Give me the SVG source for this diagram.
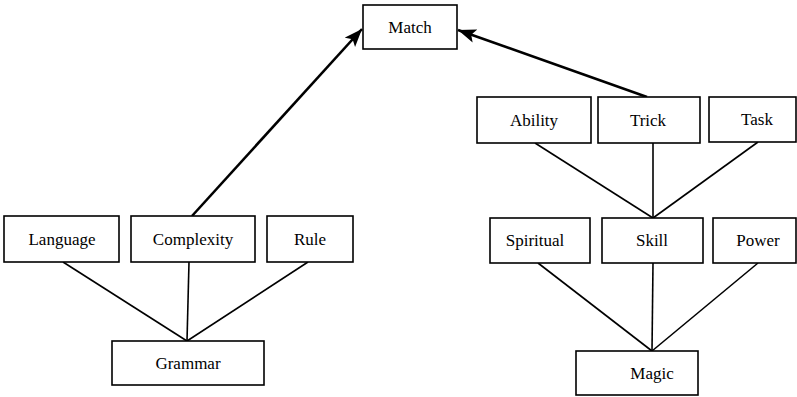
<svg xmlns="http://www.w3.org/2000/svg" width="797" height="397" viewBox="0 0 797 397">
  <style>
    .box { fill: #ffffff; stroke: #000000; stroke-width: 1.6; }
    .lbl { font-family: "Liberation Serif", "Times New Roman", serif; font-size: 17px; fill: #000000; text-anchor: middle; }
    .link { stroke: #000000; stroke-width: 1.6; fill: none; }
    .arrow { stroke: #000000; stroke-width: 2.6; fill: none; marker-end: url(#head); }
  </style>
  <defs>
    <marker id="head" markerUnits="userSpaceOnUse" markerWidth="20" markerHeight="16" refX="18" refY="7" orient="auto">
      <path d="M0,0 L18,7 L0,14 L4,7 Z" fill="#000000"/>
    </marker>
  </defs>
  <rect width="797" height="397" fill="#ffffff"/>

  <g id="connectors">
    <!-- left tree -->
    <line class="link" x1="63" y1="262" x2="187" y2="341"/>
    <line class="link" x1="189" y1="262" x2="187" y2="341"/>
    <line class="link" x1="308" y1="262" x2="187" y2="341"/>
    <!-- right upper tree -->
    <line class="link" x1="535" y1="143" x2="653" y2="218"/>
    <line class="link" x1="653" y1="143" x2="653" y2="218"/>
    <line class="link" x1="758" y1="142" x2="653" y2="218"/>
    <!-- right lower tree -->
    <line class="link" x1="538" y1="263" x2="652" y2="351"/>
    <line class="link" x1="653" y1="263" x2="652" y2="351"/>
    <line class="link" x1="758" y1="263" x2="652" y2="351"/>
    <!-- arrows to Match -->
    <line class="arrow" x1="192" y1="216" x2="362" y2="29"/>
    <line class="arrow" x1="647" y1="97" x2="458" y2="30"/>
  </g>

  <g id="match"><rect class="box" x="363" y="5" width="94" height="44"/><text class="lbl" x="410" y="33">Match</text></g>

  <g id="language"><rect class="box" x="4" y="216" width="115" height="46"/><text class="lbl" x="62" y="245">Language</text></g>
  <g id="complexity"><rect class="box" x="131" y="216" width="124" height="46"/><text class="lbl" x="193" y="245">Complexity</text></g>
  <g id="rule"><rect class="box" x="267" y="216" width="86" height="46"/><text class="lbl" x="310" y="245">Rule</text></g>
  <g id="grammar"><rect class="box" x="112" y="341" width="152" height="44"/><text class="lbl" x="188" y="369">Grammar</text></g>

  <g id="ability"><rect class="box" x="477" y="97" width="114" height="46"/><text class="lbl" x="534" y="126">Ability</text></g>
  <g id="trick"><rect class="box" x="598" y="97" width="102" height="46"/><text class="lbl" x="648" y="126">Trick</text></g>
  <g id="task"><rect class="box" x="709" y="97" width="87" height="45"/><text class="lbl" x="757" y="125">Task</text></g>

  <g id="spiritual"><rect class="box" x="490" y="218" width="100" height="45"/><text class="lbl" x="535" y="246">Spiritual</text></g>
  <g id="skill"><rect class="box" x="602" y="218" width="101" height="45"/><text class="lbl" x="652" y="246">Skill</text></g>
  <g id="power"><rect class="box" x="713" y="218" width="83" height="45"/><text class="lbl" x="758" y="246">Power</text></g>

  <g id="magic"><rect class="box" x="576" y="351" width="122" height="44"/><text class="lbl" x="652" y="379">Magic</text></g>
</svg>
